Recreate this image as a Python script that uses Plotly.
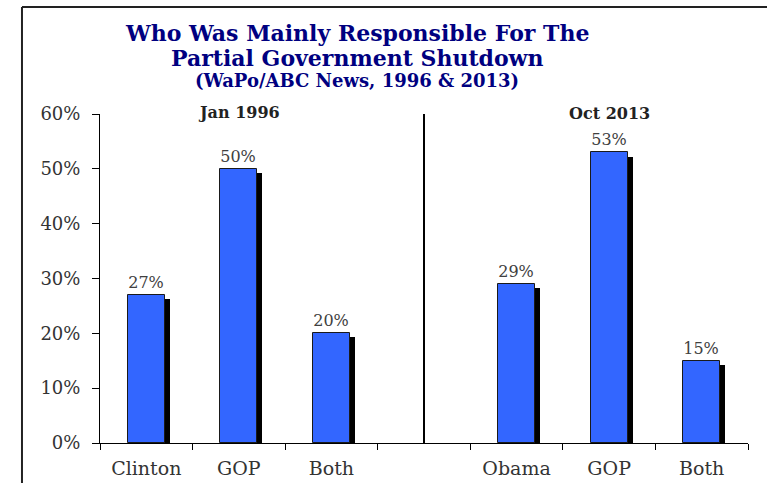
import plotly.graph_objects as go

# ---- data ----
groups = ["Jan 1996", "Oct 2013"]
categories_1996 = ["Clinton", "GOP", "Both"]
values_1996 = [27, 50, 20]
categories_2013 = ["Obama", "GOP", "Both"]
values_2013 = [29, 53, 15]
y_ticks = [0, 10, 20, 30, 40, 50, 60]
y_ticklabels = [f"{t}%" for t in y_ticks]

title_lines = ["Who Was Mainly Responsible For The", "Partial Government Shutdown"]
subtitle = "(WaPo/ABC News, 1996 & 2013)"

# positions: 3 categories, 1 blank gap, 3 categories
pos_1996 = [0, 1, 2]
gap_pos = 3
pos_2013 = [4, 5, 6]
positions = pos_1996 + pos_2013
labels = categories_1996 + categories_2013
values = values_1996 + values_2013

SERIF = "DejaVu Serif"
BAR_W = 0.40
SH_DX = 0.055   # shadow offset in category units
SH_DY = 0.75    # shadow drop in value units

fig = go.Figure()

# shadow bars
fig.add_trace(go.Bar(
    x=[p + SH_DX for p in positions], y=[v - SH_DY for v in values],
    width=BAR_W, marker=dict(color="black", line=dict(width=0)),
    hoverinfo="skip", showlegend=False, xaxis="x", yaxis="y"))

# main bars
fig.add_trace(go.Bar(
    x=positions, y=values, width=BAR_W,
    marker=dict(color="#3366FF", line=dict(color="#1a1a1a", width=1)),
    text=[f"{v}%" for v in values], textposition="outside",
    textfont=dict(family=SERIF, size=16, color="#404040"),
    cliponaxis=False, showlegend=False, xaxis="x", yaxis="y"))

boundaries = [i - 0.5 for i in range(8)]

fig.update_layout(
    width=767, height=483,
    margin=dict(l=100, r=19, t=114, b=40),
    paper_bgcolor="white", plot_bgcolor="white",
    barmode="overlay", bargap=0,
    font=dict(family=SERIF, color="#333333"),
    xaxis=dict(range=[-0.5, 6.5], tickvals=boundaries, ticktext=[""] * 8,
               ticks="outside", ticklen=6, tickcolor="black", tickwidth=1,
               showline=True, linecolor="black", linewidth=1, automargin=False,
               showgrid=False, zeroline=False, fixedrange=True),
    xaxis2=dict(range=[-0.5, 6.5], overlaying="x", side="bottom",
                tickvals=positions, ticktext=labels, automargin=False,
                ticks="outside", ticklen=8, tickcolor="rgba(0,0,0,0)",
                tickfont=dict(family=SERIF, size=19, color="#333333"),
                showline=False, showgrid=False, zeroline=False),
    yaxis=dict(range=[0, 60], tickvals=y_ticks, ticktext=y_ticklabels,
               ticks="outside", ticklen=7, tickcolor="black", tickwidth=1,
               ticklabelstandoff=8, automargin=False,
               tickfont=dict(family=SERIF, size=18, color="#333333"),
               showline=True, linecolor="black", linewidth=1,
               showgrid=False, zeroline=False),
)

# dummy trace to activate xaxis2
fig.add_trace(go.Scatter(x=[positions[0]], y=[0], xaxis="x2", yaxis="y",
                         mode="markers", marker=dict(opacity=0),
                         hoverinfo="skip", showlegend=False))

# divider line between the two polls
fig.add_shape(type="line", xref="x", yref="y", x0=gap_pos, x1=gap_pos,
              y0=0, y1=60.3, line=dict(color="black", width=2))

# outer frame (top and left)
fig.add_shape(type="line", xref="paper", yref="paper",
              x0=-0.1204, x1=1.05, y0=1.325, y1=1.325,
              line=dict(color="#222222", width=2))
fig.add_shape(type="line", xref="paper", yref="paper",
              x0=-0.1204, x1=-0.1204, y0=1.325, y1=-0.2,
              line=dict(color="#222222", width=2))

# group labels
fig.add_annotation(x=pos_1996[1], y=60, xref="x", yref="y", text=f"<b>{groups[0]}</b>",
                   showarrow=False, yanchor="middle", yshift=2,
                   font=dict(family=SERIF, size=16, color="#222222"))
fig.add_annotation(x=pos_2013[1], y=60, xref="x", yref="y", text=f"<b>{groups[1]}</b>",
                   showarrow=False, yanchor="middle", yshift=1,
                   font=dict(family=SERIF, size=16, color="#222222"))

# titles
TX = (357 - 100) / 648
fig.add_annotation(x=TX, y=(443 - 33) / 329, xref="paper", yref="paper",
                   text=f"<b>{title_lines[0]}</b>", showarrow=False, yanchor="middle",
                   font=dict(family=SERIF, size=22, color="#000080"))
fig.add_annotation(x=TX, y=(443 - 58) / 329, xref="paper", yref="paper",
                   text=f"<b>{title_lines[1]}</b>", showarrow=False, yanchor="middle",
                   font=dict(family=SERIF, size=22, color="#000080"))
fig.add_annotation(x=TX, y=(443 - 81) / 329, xref="paper", yref="paper",
                   text=f"<b>{subtitle}</b>", showarrow=False, yanchor="middle",
                   font=dict(family=SERIF, size=18, color="#000080"))

fig.write_html("out.html")
